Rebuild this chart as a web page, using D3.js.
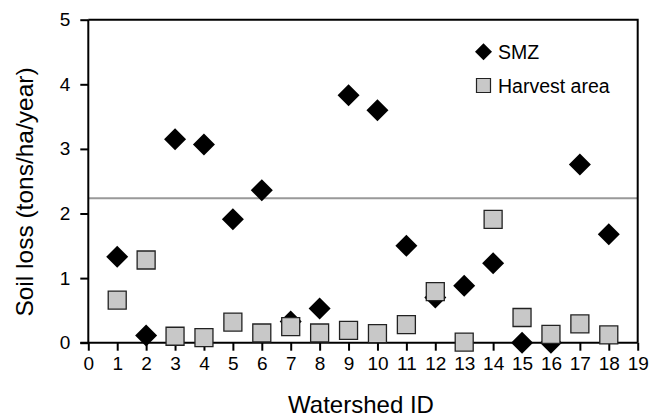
<!DOCTYPE html>
<html>
<head>
<meta charset="utf-8">
<script src="https://cdn.jsdelivr.net/npm/d3@7"></script>
<style>
body{margin:0;background:#fff;}
text{font-family:Arial,"Liberation Sans",sans-serif;fill:#000;}
</style>
</head>
<body>
<svg></svg>
<script>
var watershedIds=[1,2,3,4,5,6,7,8,9,10,11,12,13,14,15,16,17,18]
var smzLoss=[1.33,0.11,3.15,3.07,1.91,2.36,0.33,0.53,3.83,3.60,1.50,0.70,0.88,1.23,0.00,0.00,2.76,1.68]
var harvestLoss=[0.66,1.28,0.10,0.08,0.32,0.15,0.25,0.15,0.19,0.14,0.28,0.79,0.01,1.91,0.39,0.13,0.29,0.12]
var xTicks=[0,1,2,3,4,5,6,7,8,9,10,11,12,13,14,15,16,17,18,19]
var yTicks=[0,1,2,3,4,5]
var refLine=2.235
var seriesNames=["SMZ","Harvest area"]

var screen={width:660,height:419}
var margins={top:19.7,right:22.3,bottom:76.3,left:88.3}

var svg=d3.select("svg")
    .attr("width",screen.width)
    .attr("height",screen.height)

var width=screen.width-margins.left-margins.right
var height=screen.height-margins.top-margins.bottom

var xScale=d3.scaleLinear()
    .domain([0,19])
    .range([0,width])

var yScale=d3.scaleLinear()
    .domain([0,5])
    .range([height,0])

var graph=svg.append("g")
    .attr("transform","translate("+margins.left+","+margins.top+")")

// reference line
graph.append("line")
    .attr("x1",xScale(0))
    .attr("x2",xScale(19))
    .attr("y1",yScale(refLine))
    .attr("y2",yScale(refLine))
    .attr("stroke","#999")
    .attr("stroke-width",2)

// top and right border
graph.append("path")
    .attr("d","M"+xScale(0)+","+yScale(5)+"H"+xScale(19)+"V"+yScale(0))
    .attr("fill","none")
    .attr("stroke","#000")
    .attr("stroke-width",2)

var xAxis=d3.axisBottom(xScale).tickValues(xTicks).tickSize(8).tickPadding(6).tickFormat(d3.format("d"))
var yAxis=d3.axisLeft(yScale).tickValues(yTicks).tickSize(8).tickPadding(10).tickFormat(d3.format("d"))

var styleAxis=function(g)
{
    g.select(".domain").attr("stroke","#000").attr("stroke-width",2)
    g.selectAll(".tick line").attr("stroke","#000").attr("stroke-width",2)
    g.selectAll(".tick text").style("font-size","19px").attr("fill","#000")
}

graph.append("g")
    .attr("transform","translate(0,"+height+")")
    .call(xAxis)
    .call(styleAxis)
    .call(function(g){g.select(".domain").attr("d","M-8,0H"+width)})

graph.append("g")
    .call(yAxis)
    .call(styleAxis)
    .call(function(g){g.select(".domain").attr("d","M0,0V"+height)})

var diamond=d3.symbol().type(d3.symbolSquare).size(242)
var square=d3.symbol().type(d3.symbolSquare).size(324)

graph.selectAll(".smz")
    .data(smzLoss)
    .enter()
    .append("path")
    .attr("class","smz")
    .attr("d",diamond)
    .attr("transform",function(d,i){return "translate("+xScale(watershedIds[i])+","+yScale(d)+") rotate(45)"})
    .attr("fill","#000")

graph.selectAll(".harvest")
    .data(harvestLoss)
    .enter()
    .append("path")
    .attr("class","harvest")
    .attr("d",square)
    .attr("transform",function(d,i){return "translate("+xScale(watershedIds[i])+","+yScale(d)+")"})
    .attr("fill","#c8c8c8")
    .attr("stroke","#222")
    .attr("stroke-width",1.3)

// legend
var legend=svg.append("g")
legend.append("path")
    .attr("d",d3.symbol().type(d3.symbolSquare).size(144))
    .attr("transform","translate(483.5,51.7) rotate(45)")
    .attr("fill","#000")
legend.append("text")
    .attr("x",498)
    .attr("y",58.5)
    .style("font-size","19.5px")
    .text(seriesNames[0])
legend.append("path")
    .attr("d",d3.symbol().type(d3.symbolSquare).size(196))
    .attr("transform","translate(483.5,85.5)")
    .attr("fill","#c8c8c8")
    .attr("stroke","#222")
    .attr("stroke-width",1.2)
legend.append("text")
    .attr("x",498)
    .attr("y",92.5)
    .style("font-size","19.5px")
    .text(seriesNames[1])

// axis titles
svg.append("text")
    .attr("x",361)
    .attr("y",413)
    .attr("text-anchor","middle")
    .style("font-size","24px")
    .text("Watershed ID")

svg.append("text")
    .attr("transform","translate(33,192) rotate(-90)")
    .attr("text-anchor","middle")
    .style("font-size","24.5px")
    .text("Soil loss (tons/ha/year)")
</script>
</body>
</html>
